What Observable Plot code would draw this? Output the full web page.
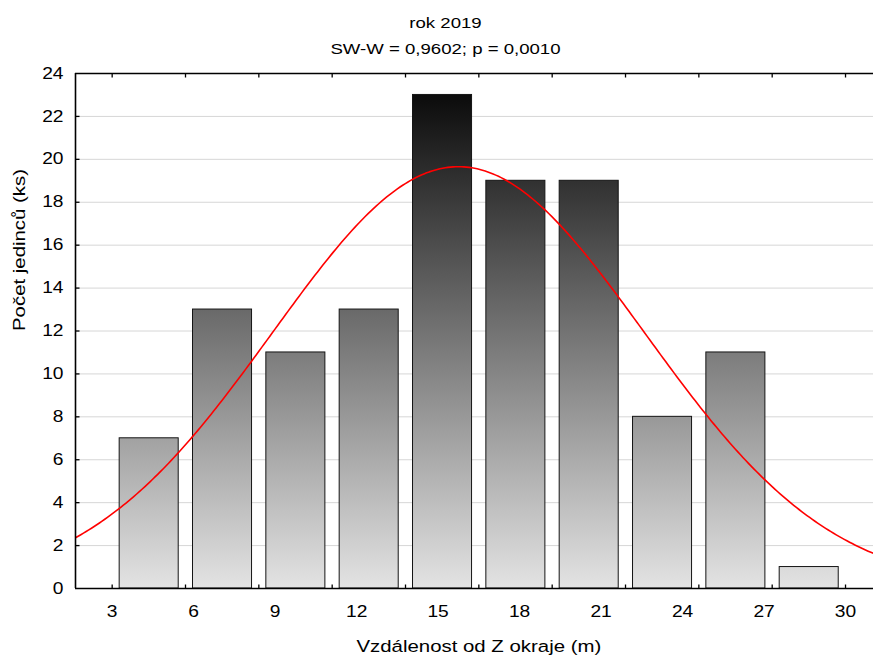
<!DOCTYPE html>
<html>
<head>
<meta charset="utf-8">
<script src="https://cdn.jsdelivr.net/npm/d3@7"></script>
<script src="https://cdn.jsdelivr.net/npm/@observablehq/plot@0.6"></script>
<style>
  html, body { margin: 0; padding: 0; background: #fff; }
  #chart svg { display: block; }
</style>
</head>
<body>
<div id="chart"></div>
<script>
// ---- data ----
const counts = [7, 13, 11, 13, 23, 19, 19, 8, 11, 1];
const binEdges = [3, 5.7, 8.4, 11.1, 13.8, 16.5, 19.2, 21.9, 24.6, 27.3, 30];
const xTickLabels = [3, 6, 9, 12, 15, 18, 21, 24, 27, 30];
const yTicks = [0, 2, 4, 6, 8, 10, 12, 14, 16, 18, 20, 22, 24];
const gridValues = [2, 4, 6, 8, 10, 12, 14, 16, 18, 20, 22];
const fitMean = 15.75;   // fitted normal curve parameters
const fitSD = 6.85;
const titleText = "rok 2019";
const subtitleText = "SW-W = 0,9602; p = 0,0010";
const xLabel = "Vzdálenost od Z okraje (m)";
const yLabel = "Počet jedinců (ks)";

// ---- derived tables ----
const bins = counts.map((c, i) => ({x1: binEdges[i], x2: binEdges[i + 1], count: c}));
const nTotal = d3.sum(counts);
const binWidth = binEdges[1] - binEdges[0];
const xDomain = [1.65, 31.03];
const yDomain = [0, 24];
const curve = d3.range(0, 301).map(i => {
  const x = xDomain[0] + (xDomain[1] - xDomain[0]) * i / 300;
  const z = (x - fitMean) / fitSD;
  return {x, y: nTotal * binWidth * Math.exp(-0.5 * z * z) / (fitSD * Math.sqrt(2 * Math.PI))};
});

const W = 873, H = 657, mT = 73, mB = 69, mL = 75, mR = 0;
const plotH = H - mT - mB, plotW = W - mL - mR;
// tick length of 4px expressed in data units
const tickY = 4 * (yDomain[1] - yDomain[0]) / plotH;
const tickX = 4 * (xDomain[1] - xDomain[0]) / plotW;
const font = "'Liberation Sans', Arial, sans-serif";

const chart = Plot.plot({
  width: W, height: H,
  marginTop: mT, marginBottom: mB, marginLeft: mL, marginRight: mR,
  x: {domain: xDomain},
  y: {domain: yDomain},
  style: {fontFamily: font, fontSize: "16px", color: "#000", background: "#fff", overflow: "visible"},
  marks: [
    Plot.ruleY(gridValues, {stroke: "#d6d6d6", strokeWidth: 1}),
    Plot.rectY(bins, {x1: "x1", x2: "x2", y: "count", insetLeft: 7.5, insetRight: 6.8,
      fill: "url(#barGrad)", stroke: "#151515", strokeWidth: 1}),
    Plot.line(curve, {x: "x", y: "y", stroke: "#ff0000", strokeWidth: 1.6, clip: true}),
    // frame lines
    Plot.ruleY([yDomain[0]], {stroke: "#000", strokeWidth: 1.6}),
    Plot.ruleY([yDomain[1]], {stroke: "#000", strokeWidth: 1.6}),
    Plot.ruleX([xDomain[0]], {stroke: "#000", strokeWidth: 1.6}),
    // inward tick marks at bin edges (bottom and top) and at the y ticks
    Plot.link(binEdges, {x1: d => d, x2: d => d, y1: () => yDomain[0], y2: () => yDomain[0] + tickY, stroke: "#000", strokeWidth: 1.3}),
    Plot.link(binEdges, {x1: d => d, x2: d => d, y1: () => yDomain[1], y2: () => yDomain[1] - tickY, stroke: "#000", strokeWidth: 1.3}),
    Plot.link(gridValues, {y1: d => d, y2: d => d, x1: () => xDomain[0], x2: () => xDomain[0] + tickX, stroke: "#000", strokeWidth: 1.3}),
    // axes labels
    Plot.axisX(xTickLabels, {anchor: "bottom", tickSize: 0, tickPadding: 17, fontSize: 16, label: null, tickFormat: d => String(d)}),
    Plot.axisY(yTicks, {anchor: "left", tickSize: 0, tickPadding: 12, fontSize: 16, label: null, tickFormat: d => String(d)}),
    // titles
    Plot.text([titleText], {frameAnchor: "top", dx: -29, dy: -50, fontSize: 15.5, lineAnchor: "middle"}),
    Plot.text([subtitleText], {frameAnchor: "top", dx: -29, dy: -24, fontSize: 15.5, lineAnchor: "middle"}),
    Plot.text([xLabel], {x: 16.5, frameAnchor: "bottom", dy: 58.5, fontSize: 17, lineAnchor: "middle"}),
    Plot.text([yLabel], {y: 12, frameAnchor: "left", dx: -56, rotate: -90, fontSize: 17, lineAnchor: "middle"})
  ]
});

// gradient in plot (user) space: dark at the top of the value axis, light at zero
const yScale = chart.scale("y");
const ns = "http://www.w3.org/2000/svg";
const defs = document.createElementNS(ns, "defs");
const grad = document.createElementNS(ns, "linearGradient");
grad.setAttribute("id", "barGrad");
grad.setAttribute("gradientUnits", "userSpaceOnUse");
grad.setAttribute("x1", 0); grad.setAttribute("x2", 0);
grad.setAttribute("y1", yScale.apply(yDomain[1])); grad.setAttribute("y2", yScale.apply(yDomain[0]));
[[0, "#020202"], [1, "#e3e3e3"]].forEach(([o, c]) => {
  const s = document.createElementNS(ns, "stop");
  s.setAttribute("offset", o); s.setAttribute("stop-color", c);
  grad.appendChild(s);
});
defs.appendChild(grad);
chart.insertBefore(defs, chart.firstChild);

// the reference font is set wider than Arial: stretch text horizontally about its anchor
const sx = 1.2;
chart.querySelectorAll("text").forEach(t => {
  const x = +t.getAttribute("x") || 0, y = +t.getAttribute("y") || 0;
  const tr = t.getAttribute("transform") || "";
  t.setAttribute("transform", `${tr} translate(${x},${y}) scale(${sx},1) translate(${-x},${-y})`);
});

document.getElementById("chart").appendChild(chart);
</script>
</body>
</html>
